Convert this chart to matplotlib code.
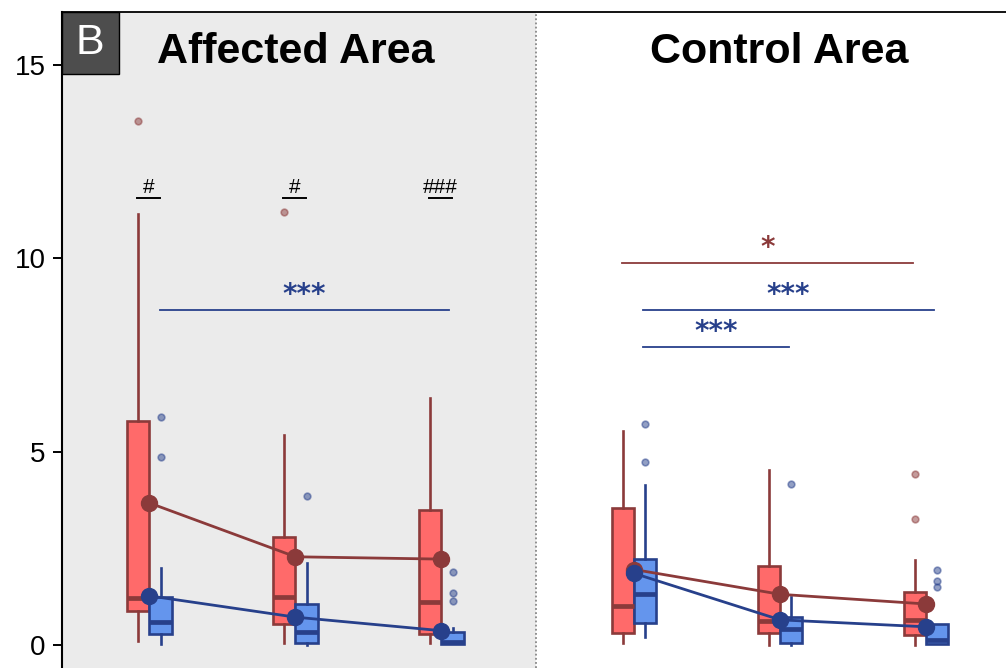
import numpy as np
import matplotlib.pyplot as plt
from matplotlib.patches import Rectangle

plt.rcParams['font.family'] = ['Liberation Sans', 'DejaVu Sans']

# group positions: three time points per area
areas = ['Affected Area', 'Control Area']
group_pos = [0, 1, 2, 3.32, 4.32, 5.32]

# red series
red_whislo = [0.10, 0.06, 0.06, 0.06, 0.00, 0.00]
red_q1 = [0.88, 0.55, 0.28, 0.30, 0.32, 0.26]
red_med = [1.21, 1.24, 1.12, 1.02, 0.63, 0.65]
red_q3 = [5.78, 2.80, 3.48, 3.55, 2.04, 1.37]
red_whishi = [11.15, 5.43, 6.39, 5.53, 4.52, 2.19]
red_fliers = [[13.55], [11.19], [], [], [], [4.43, 3.26]]
red_mean = [3.67, 2.28, 2.22, 1.95, 1.31, 1.06]

# blue series
blue_whislo = [0.02, 0.00, 0.02, 0.20, 0.00, 0.03]
blue_q1 = [0.28, 0.06, 0.02, 0.58, 0.06, 0.03]
blue_med = [0.60, 0.34, 0.09, 1.33, 0.41, 0.13]
blue_q3 = [1.23, 1.06, 0.33, 2.22, 0.73, 0.54]
blue_whishi = [2.00, 2.11, 0.43, 4.13, 1.25, 0.54]
blue_fliers = [[5.89, 4.86], [3.86], [1.88, 1.35, 1.15], [5.72, 4.72], [4.17], [1.93, 1.66, 1.49]]
blue_mean = [1.27, 0.72, 0.37, 1.85, 0.65, 0.47]

hash_labels = ['#', '#', '###']

red_fill, red_edge = '#FF6A6A', '#8B3A3A'
blue_fill, blue_edge = '#6495ED', '#27408B'

fig = plt.figure(figsize=(10.06, 6.68), dpi=100)
ax = fig.add_axes([61.7 / 1006, 0, 1 - 61.7 / 1006, 1 - 12.3 / 668])

xlo, xhi = -0.601, 5.866
sep = 2.65
ax.set_xlim(xlo, xhi)
ax.set_ylim(-0.594, 16.35)
ax.axvspan(xlo, sep, color='#EBEBEB', zorder=0, lw=0)
ax.axvline(sep, color='#888888', ls=(0, (1, 1.3)), lw=1.3, zorder=1)


def stats(wl, q1, md, q3, wh, fl):
    return [dict(whislo=a, q1=b, med=c, q3=d, whishi=e, fliers=f)
            for a, b, c, d, e, f in zip(wl, q1, md, q3, wh, fl)]


def draw(st, pos, fill, edge):
    ax.bxp(st, positions=pos, widths=0.152, patch_artist=True, showcaps=False,
           boxprops=dict(facecolor=fill, edgecolor=edge, linewidth=1.9),
           medianprops=dict(color=edge, linewidth=3.4),
           whiskerprops=dict(color=edge, linewidth=1.9),
           flierprops=dict(marker='o', markersize=4.8, markerfacecolor=edge,
                           markeredgecolor=edge, alpha=0.5, markeredgewidth=1.2),
           manage_ticks=False)


off = 0.076
draw(stats(red_whislo, red_q1, red_med, red_q3, red_whishi, red_fliers),
     [p - off for p in group_pos], red_fill, red_edge)
draw(stats(blue_whislo, blue_q1, blue_med, blue_q3, blue_whishi, blue_fliers),
     [p + off for p in group_pos], blue_fill, blue_edge)

for sl in (slice(0, 3), slice(3, 6)):
    ax.plot(group_pos[sl], red_mean[sl], color=red_edge, lw=2.0, marker='o', ms=11.5, zorder=6)
    ax.plot(group_pos[sl], blue_mean[sl], color=blue_edge, lw=2.0, marker='o', ms=11.5, zorder=7)

# hash marks above the affected groups
for p, lab in zip(group_pos[:3], hash_labels):
    ax.text(p - 0.005, 11.68, lab, ha='center', va='baseline', fontsize=15, zorder=8)
    ax.plot([p - 0.085, p + 0.075], [11.54, 11.54], color='black', lw=1.4, zorder=8)

# significance bars: (x0, x1, y, label, colour)
bars = [(0.072, 2.05, 8.66, '***', blue_edge),
        (3.236, 5.229, 9.88, '*', red_edge),
        (3.38, 5.37, 8.66, '***', blue_edge),
        (3.38, 4.38, 7.71, '***', blue_edge)]
for x0, x1, y, lab, col in bars:
    ax.plot([x0, x1], [y, y], color=col, lw=1.3, zorder=8)
    ax.text((x0 + x1) / 2, y + 0.17, lab, ha='center', va='baseline', family='DejaVu Sans',
            fontsize=20, fontweight='bold', color=col, zorder=8)

ax.text(1.0, 15.04, areas[0], ha='center', va='baseline', fontsize=31, fontweight='bold')
ax.text(4.31, 15.04, areas[1], ha='center', va='baseline', fontsize=31, fontweight='bold')

# panel label box
ax.add_patch(Rectangle((0, 1 - 62 / 656), 57 / 944, 62 / 656, transform=ax.transAxes,
                       facecolor='#4D4D4D', edgecolor='black', lw=1, zorder=9, clip_on=False))
ax.text(28.5 / 944, 1 - 31 / 656, 'B', transform=ax.transAxes, ha='center', va='center',
        fontsize=31, color='white', zorder=10)

ax.set_yticks([0, 5, 10, 15])
ax.tick_params(axis='y', labelsize=20, length=6.5, width=1.4, pad=5)
ax.tick_params(axis='x', bottom=False, labelbottom=False)
ax.spines['left'].set_linewidth(1.5)
ax.spines['top'].set_linewidth(1.3)
ax.spines['right'].set_visible(False)
ax.spines['bottom'].set_visible(False)

fig.savefig('out.png', dpi=100)
